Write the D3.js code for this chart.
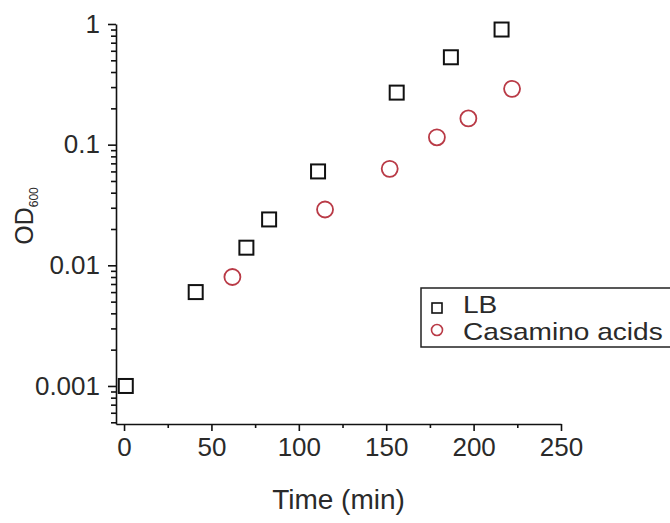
<!DOCTYPE html>
<html>
<head>
<meta charset="utf-8">
<script src="https://cdn.jsdelivr.net/npm/d3@7"></script>
<style>
  body { margin: 0; background: #fff; }
  svg { display: block; font-family: "Liberation Sans", Arial, sans-serif; }
  .axis text { fill: #2a2a2a; font-size: 26px; }
  .axis path, .axis line { stroke: #111; stroke-width: 1.6; }
</style>
</head>
<body>
<svg class="chart" width="670" height="523"></svg>
<script>
const width = 670;
const height = 523;

// LB 培养
const lbTime = [1, 41, 70, 83, 111, 156, 187, 216];
const lbOD = [0.001, 0.006, 0.014, 0.024, 0.06, 0.27, 0.53, 0.9];

// Casamino acids 培养
const caaTime = [62, 115, 152, 179, 197, 222];
const caaOD = [0.008, 0.029, 0.063, 0.115, 0.165, 0.29];

const xTicks = [0, 50, 100, 150, 200, 250];
const xMinor = [25, 75, 125, 175, 225];
const yTicks = [0.001, 0.01, 0.1, 1];
const yTickLabels = ["0.001", "0.01", "0.1", "1"];
const legendLabels = ["LB", "Casamino acids"];

const svg = d3.select(".chart");

const xScale = d3.scaleLinear()
    .domain([-4.6, 250])
    .range([116, 561]);

const yScale = d3.scaleLog()
    .domain([0.000484, 1])
    .range([424, 24]);

// 次刻度（对数坐标 2..9）
const yMinor = [];
[0.0001, 0.001, 0.01, 0.1].forEach(base => {
    for (let k = 2; k <= 9; k++) {
        const v = base * k;
        if (v >= 0.000484 && v < 1) yMinor.push(v);
    }
});

// y 轴
svg.append("g")
    .attr("class", "axis y-minor")
    .attr("transform", `translate(${xScale.range()[0]},0)`)
    .call(d3.axisLeft(yScale).tickValues(yMinor).tickSize(5).tickFormat(""))
    .call(g => g.select(".domain").remove());

svg.append("g")
    .attr("class", "axis y-axis")
    .attr("transform", `translate(${xScale.range()[0]},0)`)
    .call(d3.axisLeft(yScale)
        .tickValues(yTicks)
        .tickFormat((d, i) => yTickLabels[i])
        .tickSize(8)
        .tickPadding(8)
        .tickSizeOuter(0));

// x 轴
svg.append("g")
    .attr("class", "axis x-minor")
    .attr("transform", `translate(0,${yScale.range()[0]})`)
    .call(d3.axisBottom(xScale).tickValues(xMinor).tickSize(4).tickFormat(""))
    .call(g => g.select(".domain").remove());

svg.append("g")
    .attr("class", "axis x-axis")
    .attr("transform", `translate(0,${yScale.range()[0]})`)
    .call(d3.axisBottom(xScale)
        .tickValues(xTicks)
        .tickSize(7)
        .tickPadding(7)
        .tickSizeOuter(0));

// 坐标轴标题
svg.append("text")
    .attr("x", (xScale.range()[0] + xScale.range()[1]) / 2)
    .attr("y", 509)
    .attr("text-anchor", "middle")
    .style("font-size", "28px")
    .style("fill", "#2a2a2a")
    .text("Time (min)");

const yLabel = svg.append("text")
    .attr("transform", "translate(33,216) rotate(-90)")
    .attr("text-anchor", "middle")
    .style("font-size", "25px")
    .style("fill", "#2a2a2a");
yLabel.append("tspan").text("OD");
yLabel.append("tspan")
    .attr("dy", 5)
    .style("font-size", "12px")
    .text("600");

// 数据点
const lbData = lbTime.map((t, i) => ({ t: t, od: lbOD[i] }));
const caaData = caaTime.map((t, i) => ({ t: t, od: caaOD[i] }));
const sq = 14;
const circleColor = "#b93a46";

svg.selectAll(".lb")
    .data(lbData)
    .enter()
    .append("rect")
    .attr("class", "lb")
    .attr("x", d => xScale(d.t) - sq / 2)
    .attr("y", d => yScale(d.od) - sq / 2)
    .attr("width", sq)
    .attr("height", sq)
    .style("fill", "none")
    .style("stroke", "#111")
    .style("stroke-width", 2);

svg.selectAll(".caa")
    .data(caaData)
    .enter()
    .append("circle")
    .attr("class", "caa")
    .attr("cx", d => xScale(d.t))
    .attr("cy", d => yScale(d.od))
    .attr("r", 8)
    .style("fill", "none")
    .style("stroke", circleColor)
    .style("stroke-width", 1.8);

// 图例
const legend = svg.append("g")
    .attr("class", "legend")
    .attr("transform", "translate(421, 288)");

legend.append("rect")
    .attr("width", 260)
    .attr("height", 59)
    .style("fill", "#fff")
    .style("stroke", "#222")
    .style("stroke-width", 1.5);

legend.append("rect")
    .attr("x", 11)
    .attr("y", 15)
    .attr("width", 10)
    .attr("height", 10)
    .style("fill", "none")
    .style("stroke", "#111")
    .style("stroke-width", 1.6);

legend.append("circle")
    .attr("cx", 16)
    .attr("cy", 42)
    .attr("r", 5.5)
    .style("fill", "none")
    .style("stroke", circleColor)
    .style("stroke-width", 1.6);

// 图例文字稍微横向拉宽，贴近原图
legend.selectAll(".legend-text")
    .data(legendLabels)
    .enter()
    .append("text")
    .attr("class", "legend-text")
    .attr("transform", (d, i) => `translate(42, ${25 + i * 27}) scale(1.17, 1)`)
    .style("font-size", "24px")
    .style("fill", "#2a2a2a")
    .text(d => d);
</script>
</body>
</html>
